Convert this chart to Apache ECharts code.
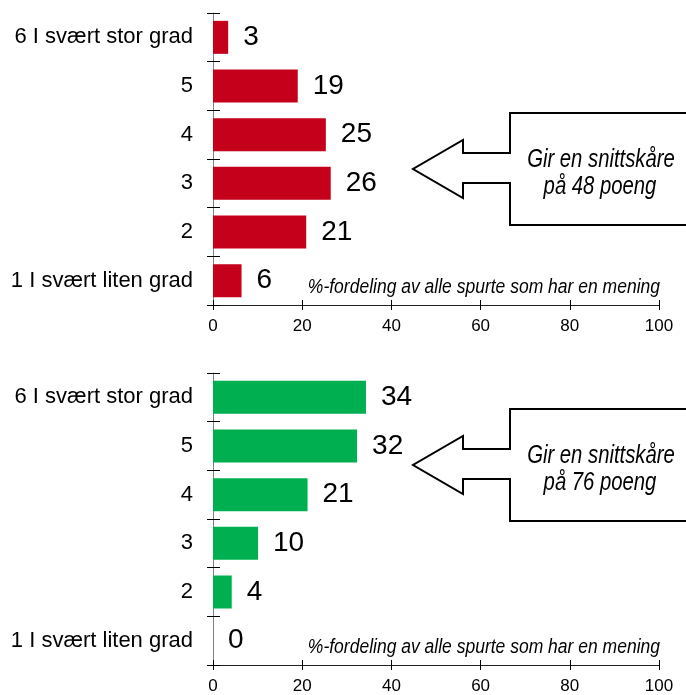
<!DOCTYPE html>
<html>
<head>
<meta charset="utf-8">
<script src="https://cdn.jsdelivr.net/npm/echarts@6/dist/echarts.min.js"></script>
<style>
html, body { margin: 0; padding: 0; background: #fff; }
#chart { width: 686px; height: 695px; }
</style>
</head>
<body>
<div id="chart"></div>
<script>
//kategorier, øverst først
var categories = ['6 I svært stor grad', '5', '4', '3', '2', '1 I svært liten grad'];
//prosentfordeling, øvre og nedre figur
var topValues = [3.4, 19, 25.3, 26.4, 20.9, 6.4];
var bottomValues = [34.3, 32.3, 21.2, 10.1, 4.2, 0];
//akse
var axisMin = 0;
var axisMax = 100;
var axisStep = 20;
//tekster
var noteText = '%-fordeling av alle spurte som har en mening';
var scoreLine1 = 'Gir en snittskåre';
var topScore = 'på 48 poeng';
var bottomScore = 'på 76 poeng';

var fontName = '"Liberation Sans", Arial, sans-serif';
var myChart = echarts.init(document.getElementById('chart'));

//x-akse, inside=true gir merkene som stikker opp
function makeXAxis(grid, inside) {
	return {
		gridIndex: grid,
		type: 'value',
		position: 'bottom',
		min: axisMin,
		max: axisMax,
		interval: axisStep,
		axisLine: { show: !inside, lineStyle: { color: '#222', width: 1 } },
		axisTick: { show: true, inside: inside, length: 5, lineStyle: { color: '#000' } },
		axisLabel: { show: !inside, fontSize: 17, color: '#000', fontFamily: fontName, margin: 13 },
		splitLine: { show: false }
	};
}

function makeYAxis(grid, inside) {
	return {
		gridIndex: grid,
		type: 'category',
		position: 'left',
		inverse: true,
		data: categories,
		axisLine: { show: !inside, lineStyle: { color: '#808080', width: 1 } },
		axisTick: { show: true, inside: inside, length: inside ? 7 : 6, lineStyle: { color: '#000' } },
		axisLabel: { show: !inside, interval: 0, fontSize: 22, color: '#000', fontFamily: fontName, margin: 20 },
		splitLine: { show: false }
	};
}

function makeSeries(values, color, axisIndex) {
	return {
		type: 'bar',
		xAxisIndex: axisIndex,
		yAxisIndex: axisIndex,
		data: values,
		barWidth: 33,
		itemStyle: { color: color },
		label: {
			show: true,
			position: 'right',
			distance: 15,
			fontSize: 28,
			color: '#000',
			fontFamily: fontName,
			formatter: function (p) {
				return Math.round(p.value);
			}
		},
		silent: true,
		animation: false
	};
}

//pil med boks, dy = vertikal forskyvning
function makeCallout(dy, line2) {
	var pts = [[510, 113], [700, 113], [700, 225], [510, 225], [510, 183], [463, 183], [463, 198],
		[413, 169], [463, 140], [463, 153], [510, 153]];
	var shifted = [];
	for (var i = 0; i < pts.length; i++) {
		shifted.push([pts[i][0], pts[i][1] + dy]);
	}
	return [{
		type: 'polygon',
		shape: { points: shifted },
		style: { fill: '#fff', stroke: '#000', lineWidth: 2 }
	}, {
		type: 'text',
		x: 601,
		y: 160 + dy,
		scaleX: 0.78,
		style: { text: scoreLine1, fill: '#000', fontSize: 26, fontStyle: 'italic', fontFamily: fontName, align: 'center', verticalAlign: 'middle' }
	}, {
		type: 'text',
		x: 600,
		y: 187 + dy,
		scaleX: 0.78,
		style: { text: line2, fill: '#000', fontSize: 26, fontStyle: 'italic', fontFamily: fontName, align: 'center', verticalAlign: 'middle' }
	}];
}

function makeNote(y) {
	return {
		type: 'text',
		x: 660,
		y: y,
		scaleX: 0.875,
		style: { text: noteText, fill: '#000', fontSize: 20, fontStyle: 'italic', fontFamily: fontName, align: 'right', verticalAlign: 'middle' }
	};
}

var graphics = makeCallout(0, topScore).concat(makeCallout(296, bottomScore));
graphics.push(makeNote(287));
graphics.push(makeNote(647));

var option = {
	animation: false,
	grid: [
		{ left: 213, top: 13, width: 446, height: 292 },
		{ left: 213, top: 373, width: 446, height: 292 }
	],
	xAxis: [makeXAxis(0, false), makeXAxis(0, true), makeXAxis(1, false), makeXAxis(1, true)],
	yAxis: [makeYAxis(0, false), makeYAxis(0, true), makeYAxis(1, false), makeYAxis(1, true)],
	series: [
		makeSeries(topValues, '#C4001A', 0),
		makeSeries(bottomValues, '#00B050', 2)
	],
	graphic: graphics
};
myChart.setOption(option);
</script>
</body>
</html>
